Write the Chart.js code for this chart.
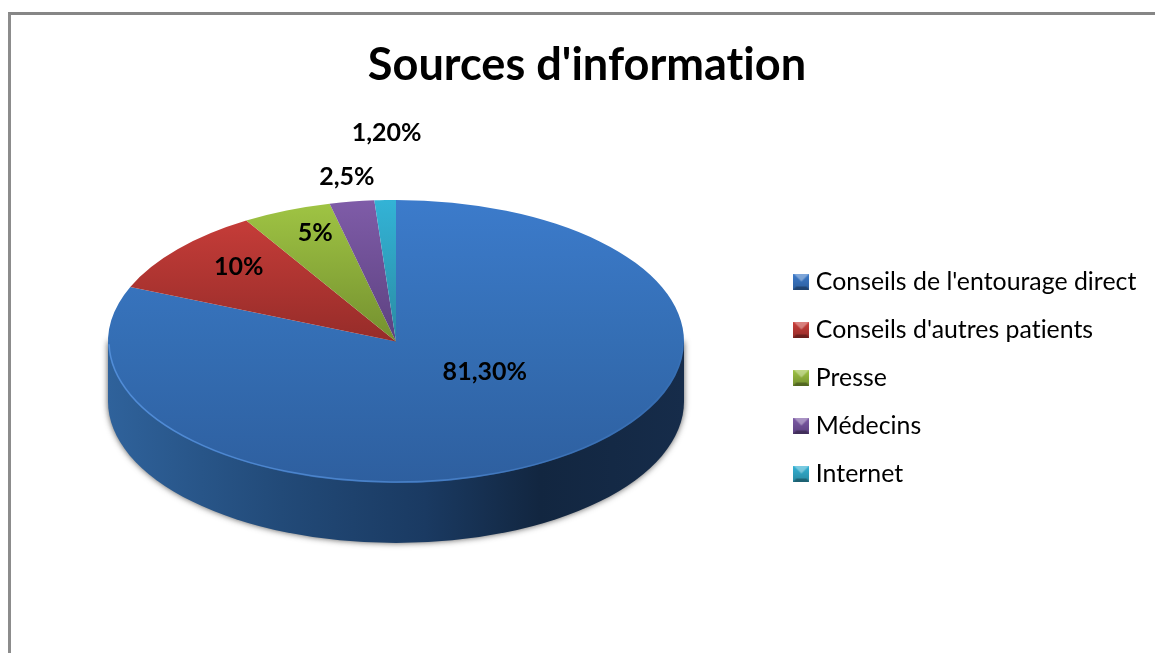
<!DOCTYPE html>
<html>
<head>
<meta charset="utf-8">
<script src="https://cdn.jsdelivr.net/npm/chart.js@4"></script>
<style>
  html, body { margin: 0; padding: 0; background: #fff; overflow: hidden; }
  #wrap { position: relative; width: 1155px; height: 653px; overflow: hidden; }
  #frame { position: absolute; left: 8px; top: 12px; width: 1200px; height: 700px;
           border-left: 3px solid #8c8c8c; border-top: 3px solid #868686; }
  canvas { position: absolute; left: 0; top: 0; }
</style>
</head>
<body>
<div id="wrap">
  <div id="frame"></div>
  <canvas id="pieChart" width="1174" height="653" style="width:1174px;height:653px"></canvas>
</div>
<script>
const categories = ["Conseils de l'entourage direct", "Conseils d'autres patients", "Presse", "Médecins", "Internet"];
const shares = [81.3, 10, 5, 2.5, 1.2];
const shareLabels = ['81,30%', '10%', '5%', '2,5%', '1,20%'];

// top, middle and bottom colours of each slice
const topColors = ['#3c7bcb', '#cd3f3b', '#a0c544', '#7f5ca8', '#33b3d6'];
const midColors = ['#346eb4', '#962c29', '#74902f', '#5c4180', '#2a8ba3'];
const bottomColors = ['#2e5f9f', '#962c29', '#74902f', '#5c4180', '#2a8ba3'];

// look of the flattened pie
const pieCenterX = 396, pieCenterY = 341.5, squash = 0.4915, depth = 60;
// label nudges from the middle of each slice, in px
const labelNudge = [[9, -28], [-48, -28], [-26, -43], [-27, -95], [-4, -138]];
// where the legend goes from its default place
const legendShiftX = -28, legendShiftY = 51;

const FONT = 'Lato, Carlito, sans-serif';

function makeMarker(i) {
    const s = 16, c = document.createElement('canvas');
    c.width = c.height = s;
    const g = c.getContext('2d');
    const side = g.createLinearGradient(0, 0, 0, s);
    side.addColorStop(0, topColors[i]);
    side.addColorStop(1, bottomColors[i]);
    g.fillStyle = side;
    g.fillRect(0, 0, s, s);
    // bright bevel on top, dark one at the bottom
    g.fillStyle = 'rgba(255,255,255,0.35)';
    g.beginPath(); g.moveTo(0, 0); g.lineTo(s, 0); g.lineTo(s / 2, s / 2); g.closePath(); g.fill();
    g.fillStyle = 'rgba(0,0,0,0.3)';
    g.beginPath(); g.moveTo(0, s); g.lineTo(s, s); g.lineTo(s - 3, s - 3); g.lineTo(3, s - 3); g.closePath(); g.fill();
    return c;
}
const markers = categories.map((_, i) => makeMarker(i));

// draws the side of the disc, then flattens the pie itself
const flatPie = {
    id: 'flatPie',
    afterLayout(chart) {
        const legend = chart.legend;
        legend.left += legendShiftX;
        legend.right += legendShiftX;
        legend.top += legendShiftY;
        legend.bottom += legendShiftY;
    },
    beforeDraw(chart) {
        // keeps "ti" as two letters
        chart.ctx.letterSpacing = '0.01px';
    },
    beforeDatasetsDraw(chart) {
        const arc = chart.getDatasetMeta(0).data[0];
        const ctx = chart.ctx;
        const rx = arc.outerRadius, ry = rx * squash;
        ctx.save();
        const side = ctx.createLinearGradient(pieCenterX - rx, 0, pieCenterX + rx, 0);
        side.addColorStop(0, '#2f629b');
        side.addColorStop(0.3, '#224a78');
        side.addColorStop(0.55, '#1a3a62');
        side.addColorStop(0.75, '#122640');
        side.addColorStop(1, '#162c4a');
        ctx.shadowColor = 'rgba(70,70,70,0.9)';
        ctx.shadowBlur = 6;
        ctx.fillStyle = side;
        ctx.beginPath();
        ctx.ellipse(pieCenterX, pieCenterY + depth, rx, ry, 0, 0, Math.PI);
        ctx.lineTo(pieCenterX - rx, pieCenterY);
        ctx.lineTo(pieCenterX + rx, pieCenterY);
        ctx.closePath();
        ctx.fill();
        ctx.restore();

        ctx.save();
        ctx.translate(pieCenterX, pieCenterY);
        ctx.scale(1, squash);
        ctx.translate(-arc.x, -arc.y);
    },
    afterDatasetsDraw(chart) {
        const ctx = chart.ctx;
        ctx.restore();
        const meta = chart.getDatasetMeta(0);
        const first = meta.data[0];
        const rx = first.outerRadius, ry = rx * squash;

        // light rim along the front edge, fading to the right
        ctx.save();
        const rim = ctx.createLinearGradient(pieCenterX - rx, 0, pieCenterX + rx, 0);
        rim.addColorStop(0, 'rgba(85,145,220,0.9)');
        rim.addColorStop(0.6, 'rgba(85,145,220,0.6)');
        rim.addColorStop(1, 'rgba(85,145,220,0.1)');
        ctx.strokeStyle = rim;
        ctx.lineWidth = 1.5;
        ctx.beginPath();
        ctx.ellipse(pieCenterX, pieCenterY, rx - 1, ry - 1, 0, 0.02, Math.PI - 0.02);
        ctx.stroke();
        ctx.restore();

        ctx.save();
        ctx.font = 'bold 25px ' + FONT;
        ctx.fillStyle = '#000';
        ctx.textAlign = 'center';
        ctx.textBaseline = 'middle';
        meta.data.forEach((el, i) => {
            const mid = (el.startAngle + el.endAngle) / 2;
            const x = pieCenterX + Math.cos(mid) * rx / 2 + labelNudge[i][0];
            const y = pieCenterY + Math.sin(mid) * ry / 2 + labelNudge[i][1];
            ctx.fillText(shareLabels[i], x, y);
        });
        ctx.restore();
    }
};

const ctx = document.getElementById('pieChart').getContext('2d');
new Chart(ctx, {
    type: 'pie',
    data: {
        labels: categories,
        datasets: [{
            data: shares,
            clip: false,
            borderWidth: 0,
            backgroundColor(context) {
                const chart = context.chart;
                if (!chart.chartArea) return topColors[context.dataIndex];
                const cy = (chart.chartArea.top + chart.chartArea.bottom) / 2;
                const g = chart.ctx.createLinearGradient(0, cy - 288, 0, cy + 288);
                g.addColorStop(0, topColors[context.dataIndex]);
                g.addColorStop(0.5, midColors[context.dataIndex]);
                g.addColorStop(1, bottomColors[context.dataIndex]);
                return g;
            }
        }]
    },
    options: {
        responsive: false,
        animation: false,
        events: [],
        radius: 288,
        plugins: {
            title: {
                display: true,
                text: "Sources d'information",
                color: '#000',
                font: { family: FONT, size: 45.1, weight: 'bold', lineHeight: 1 },
                padding: { top: 42.5, bottom: 16 }
            },
            legend: {
                position: 'right',
                labels: {
                    usePointStyle: true,
                    boxWidth: 4,
                    boxHeight: 4,
                    padding: 23.15,
                    color: '#000',
                    font: { family: FONT, size: 24.85, lineHeight: 1 },
                    generateLabels(chart) {
                        return categories.map((text, i) => ({
                            text, index: i, pointStyle: markers[i], fillStyle: topColors[i],
                            lineWidth: 0, strokeStyle: 'transparent', fontColor: '#000'
                        }));
                    }
                }
            },
            tooltip: { enabled: false }
        }
    },
    plugins: [flatPie]
});
</script>
</body>
</html>
